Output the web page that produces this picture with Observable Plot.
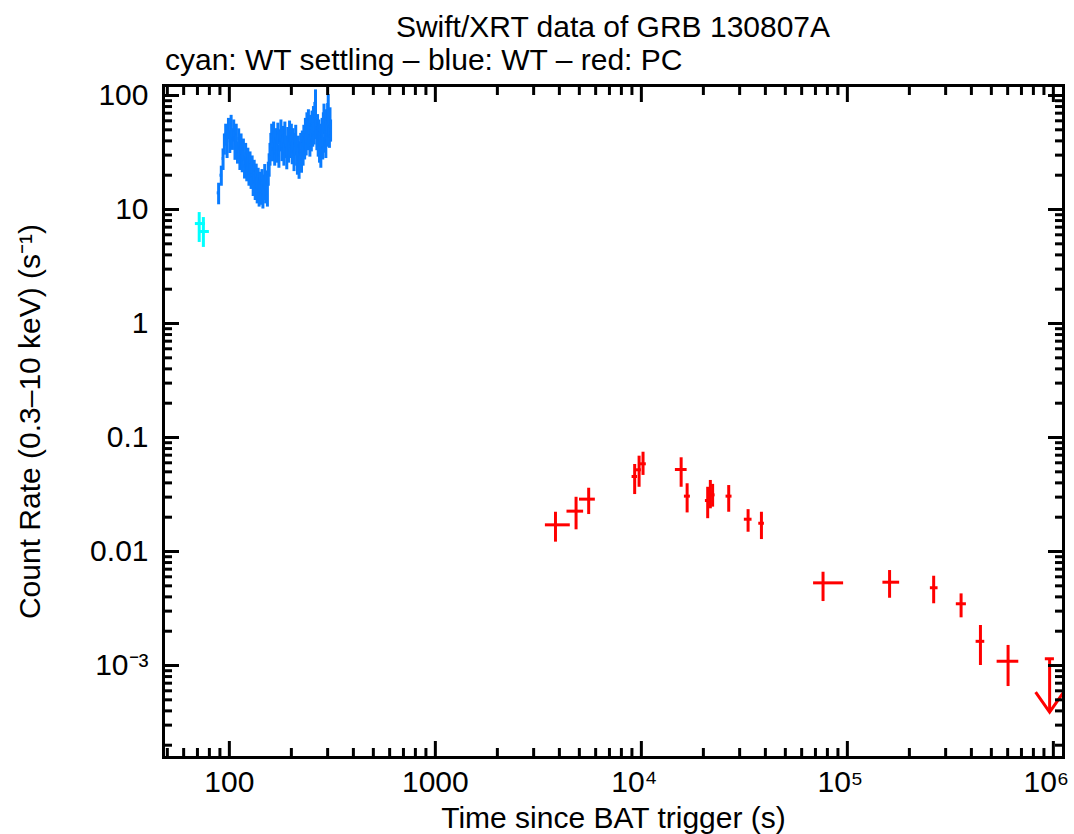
<!DOCTYPE html>
<html><head><meta charset="utf-8">
<script src="https://cdn.jsdelivr.net/npm/d3@7"></script>
<script src="https://cdn.jsdelivr.net/npm/@observablehq/plot@0.6"></script>
<style>
body{margin:0;background:#fff;font-family:"Liberation Sans",Arial,Helvetica,sans-serif;color:#000;}
#head{position:relative;width:1074px;height:80px;}
#title{position:absolute;left:0;top:12px;width:1226px;text-align:center;font-size:30px;line-height:30px;white-space:nowrap;}
#subtitle{position:absolute;left:165px;top:45px;font-size:30px;line-height:30px;white-space:nowrap;}
</style>
</head><body>
<div id="head"><div id="title">Swift/XRT data of GRB 130807A</div><div id="subtitle">cyan: WT settling – blue: WT – red: PC</div></div>
<div id="chart"></div>
<script>
// ---- Data ----
// WT settling (cyan)
const setTime = [71.4, 74.8];
const setTimeLo = [68.4, 72.2];
const setTimeHi = [76.5, 80.0];
const setRate = [7.53, 6.41];
const setRateLo = [5.14, 4.65];
const setRateHi = [9.4, 8.5];

// WT (blue)
const wtTime = [88.7,91.4,93.2,94.6,96.0,97.5,99.0,100.5,102.0,103.5,105.0,106.5,108.0,109.5,111.0,112.5,114.0,115.5,117.0,118.5,120.0,121.5,123.0,124.5,126.0,127.5,129.0,130.5,132.0,133.5,135.0,136.5,138.0,139.5,141.0,142.5,144.0,145.5,147.0,148.5,150.0,151.5,153.0,154.5,156.0,157.5,159.0,160.5,162.0,164.0,166.0,168.0,170.0,172.0,174.0,176.0,178.0,180.0,182.0,184.0,186.0,188.0,190.0,192.0,194.0,196.0,198.0,200.0,202.0,204.0,206.0,208.0,210.0,212.0,214.0,216.0,218.0,220.0,222.0,224.0,226.0,228.0,230.0,232.0,234.0,236.0,238.0,240.0,242.0,244.0,246.0,248.0,250.0,252.0,254.0,256.0,258.0,260.0,262.0,264.0,266.0,268.0,270.0,272.0,274.0,276.0,278.0,280.0,282.0,284.0,286.0,288.0,290.0,292.0,294.0,296.0,298.0,300.0,302.0,304.0,306.0,308.0,310.0];
const wtTimeErr = [1.4,1.3,0.9,0.7,0.7,0.75,0.75,0.75,0.75,0.75,0.75,0.75,0.75,0.75,0.75,0.75,0.75,0.75,0.75,0.75,0.75,0.75,0.75,0.75,0.75,0.75,0.75,0.75,0.75,0.75,0.75,0.75,0.75,0.75,0.75,0.75,0.75,0.75,0.75,0.75,0.75,0.75,0.75,0.75,0.75,0.75,0.75,0.75,0.9,1,1,1,1,1,1,1,1,1,1,1,1,1,1,1,1,1,1,1,1,1,1,1,1,1,1,1,1,1,1,1,1,1,1,1,1,1,1,1,1,1,1,1,1,1,1,1,1,1,1,1,1,1,1,1,1,1,1,1,1,1,1,1,1,1,1,1,1,1,1,1,1,1,1];
const wtRate = [14,20,28,38,46,36,52,40,55,42,50,35,46,32,42,29,38,27,34,24,31,23,28,21,26,20,24,17.5,22,16,20,15,18.5,14,17,14.5,18,13.5,16,20,15,17.5,14,21,25,31,38,46,34,48,31,42,33,47,30,41,50,34,44,31,48,36,29,43,33,49,36,46,32,42,28,38,45,31,26,36,24,32,38,27,40,31,45,35,52,38,58,42,62,44,37,55,41,60,45,66,47,72,88,52,42,56,37,50,33,46,30,44,52,35,58,66,47,40,36,62,45,70,82,54,44,64,50];
const wtRateErr = [3,4,6,8,10,8,11,9,12,9,11,8,10,7,9,7,8,6,7.5,5.5,7,5.5,6.5,5,6,5,5.5,4.5,5,4,5,3.8,4.5,3.5,4.2,3.6,4.4,3.4,4,4.8,3.8,4.3,3.5,5,5.8,7,8.5,10,7.8,10.5,7,9.2,7.5,10.2,7,9,11,7.7,9.6,7,10.5,8,6.7,9.4,7.5,10.7,8,10,7.3,9.2,6.5,8.5,9.8,7,6,8,5.6,7.3,8.5,6.2,8.8,7,9.8,7.8,11,8.5,12.5,9.2,13,9.6,8.2,12,9,13,9.8,14,10.2,15,24,11,9.2,12,8.2,11,7.5,10,7,9.6,11,7.8,12.5,18,10.2,8.8,8,13,9.8,15,20,11.5,9.6,14,11];

// PC (red)
const pcTime = [3829,4820,5550,9280,9750,10190,15600,16680,20990,21620,22180,26550,32970,38270,76200,160300,262400,356500,442600,602800];
const pcTimeLo = [3421,4355,5010,9016,9460,9880,14630,16180,20460,21200,21620,25770,31620,37150,68550,148800,252900,338000,421700,533300];
const pcTimeHi = [4519,5245,5980,9590,10000,10570,16680,17300,21620,22000,22800,27550,34460,39570,95900,179400,275600,378300,464500,679500];
const pcRate = [0.01714,0.0226,0.0288,0.0455,0.0521,0.0588,0.0524,0.0306,0.028,0.0331,0.0314,0.0306,0.0192,0.0177,0.00531,0.00538,0.00481,0.00348,0.00163,0.00109];
const pcRateLo = [0.01208,0.0155,0.0211,0.0316,0.0366,0.0465,0.0366,0.0218,0.0194,0.0237,0.0245,0.0221,0.01476,0.01273,0.00364,0.00389,0.00348,0.00262,0.001,0.000654];
const pcRateHi = [0.0221,0.0299,0.0359,0.058,0.0686,0.0743,0.0664,0.0393,0.0366,0.042,0.0388,0.0379,0.0233,0.0221,0.00658,0.00681,0.00607,0.00425,0.002244,0.0015];

// PC upper limit
const ulTime = [959000];
const ulTimeLo = [914000];
const ulTimeHi = [1012000];
const ulRate = [0.001146];
const ulArrowTip = [0.00039];

// Axis ticks
const xMajorPlain = [100, 1000];
const xTickLabelsPlain = ["100", "1000"];
const xMajorPow = [1e4, 1e5, 1e6];
const xTickLabelsPow = ["10⁴", "10⁵", "10⁶"];
const yMajor = [0.001, 0.01, 0.1, 1, 10, 100];
const yTickLabels = ["10⁻³", "0.01", "0.1", "1", "10", "100"];
const minorMult = [2, 3, 4, 5, 6, 7, 8, 9];
const xDecades = [10, 100, 1000, 1e4, 1e5];
const yDecades = [1e-4, 1e-3, 1e-2, 0.1, 1, 10];

// ---- Build ----
const xMajor = [...xMajorPlain, ...xMajorPow];
const xDomain = [47.9, 1.12e6];
const yDomain = [1.56e-4, 122.4];
const xMinor = xDecades.flatMap(d => minorMult.map(m => m * d)).filter(v => v > xDomain[0] && v < xDomain[1]);
const yMinor = yDecades.flatMap(d => minorMult.map(m => m * d)).filter(v => v > yDomain[0] && v < yDomain[1]);

const settling = setTime.map((t, i) => ({t, tlo: setTimeLo[i], thi: setTimeHi[i], r: setRate[i], rlo: setRateLo[i], rhi: setRateHi[i]}));
const wt = wtTime.map((t, i) => ({t, tlo: t - wtTimeErr[i], thi: t + wtTimeErr[i], r: wtRate[i], rlo: wtRate[i] - wtRateErr[i], rhi: wtRate[i] + wtRateErr[i]}));
const pc = pcTime.map((t, i) => ({t, tlo: pcTimeLo[i], thi: pcTimeHi[i], r: pcRate[i], rlo: pcRateLo[i], rhi: pcRateHi[i]}));
const ul = ulTime.map((t, i) => ({t, tlo: ulTimeLo[i], thi: ulTimeHi[i], r: ulRate[i], tip: ulArrowTip[i]}));

const CYAN = "#00ffff", BLUE = "#0a7cff", RED = "#ff0000";
const SW = 3;

function errMarks(data, color) {
  return [
    Plot.ruleX(data, {x: "t", y1: "rlo", y2: "rhi", stroke: color, strokeWidth: SW}),
    Plot.ruleY(data, {y: "r", x1: "tlo", x2: "thi", stroke: color, strokeWidth: SW})
  ];
}

const vHead = {
  draw(context) {
    context.moveTo(-14, -20);
    context.lineTo(0, 0);
    context.lineTo(14, -20);
  }
};

const fxPlain = d => xTickLabelsPlain[xMajorPlain.indexOf(d)];
const fxPow = d => xTickLabelsPow[xMajorPow.indexOf(d)];
const fy = d => yTickLabels[yMajor.indexOf(d)];

const TICK_MAJ = 16, TICK_MIN = 9;

const chart = Plot.plot({
  width: 1074,
  height: 754,
  marginTop: 5,
  marginBottom: 77,
  marginLeft: 163,
  marginRight: 11,
  style: {fontFamily: '"Liberation Sans", Arial, Helvetica, sans-serif', fontSize: "30px", color: "#000", background: "#fff", overflow: "visible"},
  x: {type: "log", domain: xDomain, axis: null},
  y: {type: "log", domain: yDomain, axis: null},
  marks: [
    ...errMarks(settling, CYAN),
    ...errMarks(wt, BLUE),
    ...errMarks(pc, RED),
    Plot.ruleY(ul, {y: "r", x1: "tlo", x2: "thi", stroke: RED, strokeWidth: SW}),
    Plot.ruleX(ul, {x: "t", y1: "r", y2: "tip", stroke: RED, strokeWidth: SW}),
    Plot.dot(ul, {x: "t", y: "tip", symbol: vHead, fill: "none", stroke: RED, strokeWidth: SW, strokeLinejoin: "miter"}),
    // ticks (inside, all four sides)
    Plot.axisX({ticks: xMajor, anchor: "bottom", tickSize: TICK_MAJ, insetBottom: TICK_MAJ, fill: "none", label: null, strokeWidth: SW}),
    Plot.axisX({ticks: xMinor, anchor: "bottom", tickSize: TICK_MIN, insetBottom: TICK_MIN, fill: "none", label: null, strokeWidth: SW}),
    Plot.axisX({ticks: xMajor, anchor: "top", tickSize: TICK_MAJ, insetTop: TICK_MAJ, fill: "none", label: null, strokeWidth: SW}),
    Plot.axisX({ticks: xMinor, anchor: "top", tickSize: TICK_MIN, insetTop: TICK_MIN, fill: "none", label: null, strokeWidth: SW}),
    Plot.axisY({ticks: yMajor, anchor: "left", tickSize: TICK_MAJ, insetLeft: TICK_MAJ, fill: "none", label: null, strokeWidth: SW}),
    Plot.axisY({ticks: yMinor, anchor: "left", tickSize: TICK_MIN, insetLeft: TICK_MIN, fill: "none", label: null, strokeWidth: SW}),
    Plot.axisY({ticks: yMajor, anchor: "right", tickSize: TICK_MAJ, insetRight: TICK_MAJ, fill: "none", label: null, strokeWidth: SW}),
    Plot.axisY({ticks: yMinor, anchor: "right", tickSize: TICK_MIN, insetRight: TICK_MIN, fill: "none", label: null, strokeWidth: SW}),
    // tick labels
    Plot.axisX({ticks: xMajorPlain, anchor: "bottom", tickSize: 0, tickPadding: 13, tickFormat: fxPlain, fontSize: 30, label: null}),
    Plot.axisX({ticks: xMajorPow, anchor: "bottom", tickSize: 0, tickPadding: 13, tickFormat: fxPow, fontSize: 30, label: null, dx: -7}),
    Plot.axisY({ticks: yMajor, anchor: "left", tickSize: 0, tickPadding: 15, tickFormat: fy, fontSize: 30, label: null}),
    // axis titles
    Plot.text(["Time since BAT trigger (s)"], {frameAnchor: "bottom", dy: 61, lineAnchor: "middle", fontSize: 30}),
    Plot.text(["Count Rate (0.3–10 keV) (s⁻¹)"], {frameAnchor: "left", dx: -133, rotate: -90, lineAnchor: "middle", textAnchor: "middle", fontSize: 30}),
    Plot.frame({stroke: "#000", strokeWidth: SW})
  ]
});
document.getElementById("chart").appendChild(chart);
</script>
</body></html>
